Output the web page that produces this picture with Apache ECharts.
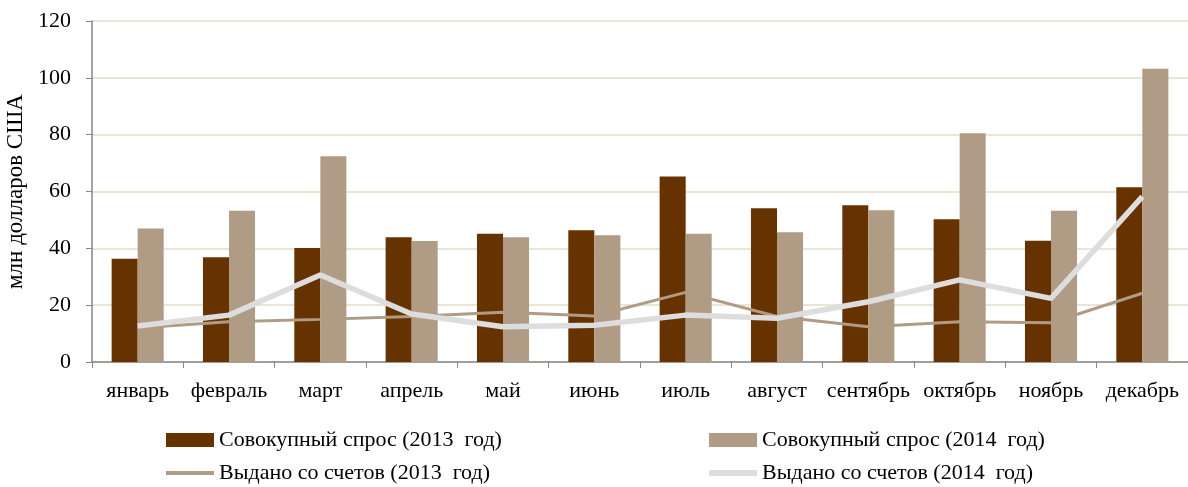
<!DOCTYPE html>
<html>
<head>
<meta charset="utf-8">
<script src="https://cdn.jsdelivr.net/npm/echarts@6/dist/echarts.min.js"></script>
<style>
html,body{margin:0;padding:0;background:#fff;}
#chart{width:1188px;height:487px;}
</style>
</head>
<body>
<div id="chart"></div>
<script>
const categories = ['январь','февраль','март','апрель','май','июнь','июль','август','сентябрь','октябрь','ноябрь','декабрь'];
const demand2013 = [36.3, 36.9, 40.1, 43.9, 45.1, 46.4, 65.3, 54.1, 55.2, 50.2, 42.7, 61.5];
const demand2014 = [47.0, 53.2, 72.4, 42.6, 43.9, 44.6, 45.1, 45.7, 53.4, 80.5, 53.2, 103.2];
const issued2013 = [12.0, 14.2, 15.0, 16.0, 17.5, 16.2, 24.5, 16.0, 12.4, 14.2, 13.8, 24.2];
const issued2014 = [12.7, 16.5, 30.6, 16.9, 12.4, 12.9, 16.5, 15.4, 21.2, 28.9, 22.4, 58.2];
const yTicks = [0, 20, 40, 60, 80, 100, 120];
const names = ['Совокупный спрос (2013  год)','Совокупный спрос (2014  год)','Выдано со счетов (2013  год)','Выдано со счетов (2014  год)'];
const yName = 'млн долларов США';

const FONT = "'Liberation Serif', 'Times New Roman', serif";
const chart = echarts.init(document.getElementById('chart'), null, {renderer:'canvas'});
const legendText = {fontFamily: FONT, fontSize: 22, color: '#000'};
function lg(name, left, top, h, icon){
  return {data:[name], left:left, top:top, itemWidth:48, itemHeight:h, icon:icon, itemGap:0,
          textStyle:legendText, padding:0, selectedMode:false};
}
chart.setOption({
  animation:false,
  grid:{left:92, right:0, top:21, bottom:125, containLabel:false, outerBoundsMode:'none'},
  legend:[
    lg(names[0], 166, 429, 14, 'rect'),
    lg(names[1], 709, 429, 14, 'rect'),
    lg(names[2], 166, 462, 4, 'rect'),
    lg(names[3], 709, 462, 6, 'rect')
  ],
  xAxis:{
    type:'category', data:categories, boundaryGap:true,
    axisLine:{lineStyle:{color:'#868686', width:1.5}},
    axisTick:{show:true, length:6, lineStyle:{color:'#868686'}},
    axisLabel:{fontFamily:FONT, fontSize:22, color:'#000', margin:18, interval:0}
  },
  yAxis:{
    type:'value', min:yTicks[0], max:yTicks[yTicks.length-1], interval:20,
    name:yName, nameLocation:'middle', nameGap:56,
    nameTextStyle:{fontFamily:FONT, fontSize:23, color:'#000'},
    axisLine:{show:true, lineStyle:{color:'#868686', width:1.5}},
    axisTick:{show:true, length:6, lineStyle:{color:'#868686'}},
    axisLabel:{fontFamily:FONT, fontSize:22, color:'#000', margin:21},
    splitLine:{lineStyle:{color:'#E3DEC9', width:1.5}}
  },
  series:[
    {name:names[0], type:'bar', data:demand2013, barGap:'0%', barCategoryGap:'43%',
     itemStyle:{color:'#663300'}, z:2},
    {name:names[1], type:'bar', data:demand2014, barGap:'0%', barCategoryGap:'43%',
     itemStyle:{color:'#B09C85'}, z:2},
    {name:names[2], type:'line', data:issued2013, symbol:'none',
     lineStyle:{color:'#B09C85', width:3}, itemStyle:{color:'#B09C85'}, z:3},
    {name:names[3], type:'line', data:issued2014, symbol:'none',
     lineStyle:{color:'#DDDDDD', width:5.5}, itemStyle:{color:'#DDDDDD'}, z:4}
  ]
});
</script>
</body>
</html>
